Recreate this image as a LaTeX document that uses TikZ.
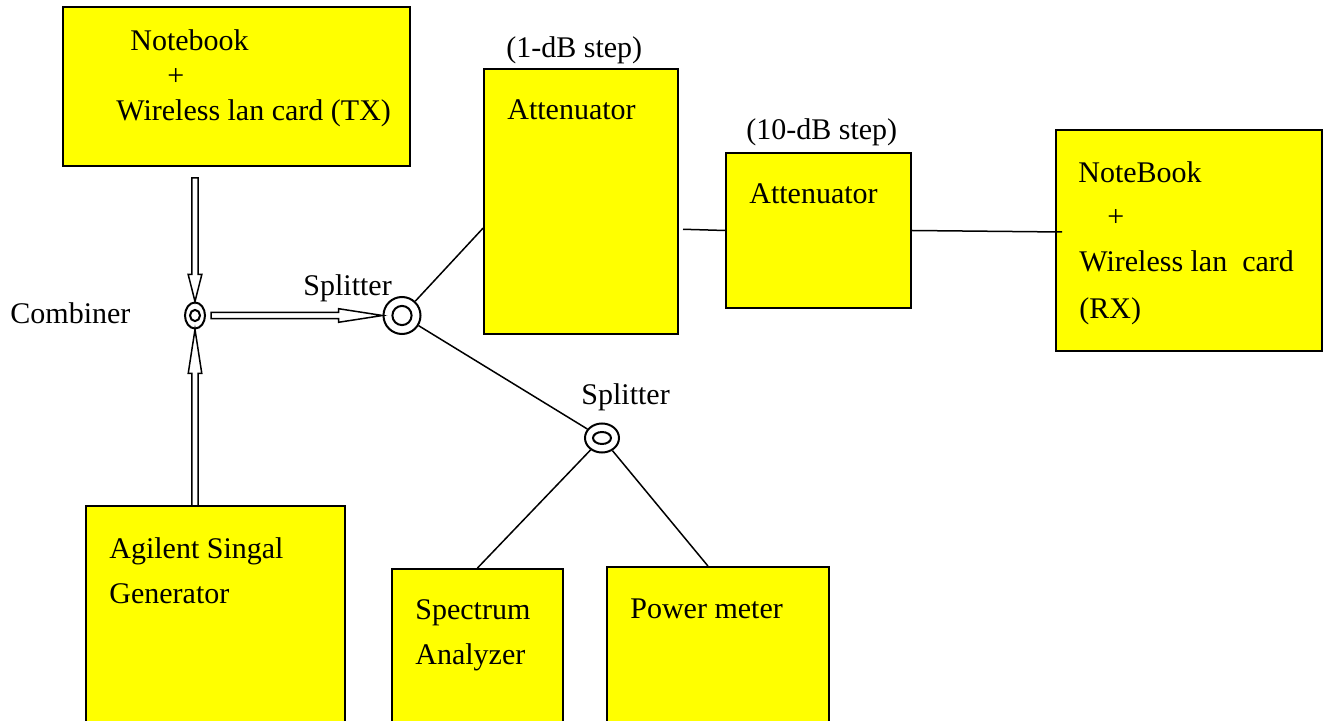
\documentclass[tikz,border=0pt]{standalone}
\usepackage{fontspec}
\setmainfont{Liberation Serif}
\usetikzlibrary{calc,fit,shapes.geometric}
\definecolor{boxyellow}{RGB}{255,255,0}
\tikzset{
  box/.style={draw=black, line width=1pt, fill=boxyellow, inner sep=0pt, rectangle},
  conn/.style={draw=black, line width=0.75pt},
  txt/.style={anchor=base west, inner sep=0pt, yshift=-0.8pt, font=\fontsize{15}{18}\selectfont, text=black},
  ring/.style={draw=black, line width=1pt, ellipse, inner sep=0pt, fill=white}
}
\newcommand\blockarr[4]{%
  \coordinate (#4h) at ($(#2)!#3!(#1)$);
  \draw[conn, line join=miter]
    ($(#1)!1.6pt!90:(#2)$) -- ($(#4h)!1.6pt!90:(#2)$) -- ($(#4h)!3.4pt!90:(#2)$)
    -- (#2) -- ($(#4h)!3.4pt!-90:(#2)$) -- ($(#4h)!1.6pt!-90:(#2)$)
    -- ($(#1)!1.6pt!-90:(#2)$) -- cycle;}
\begin{document}
\begin{tikzpicture}[x=0.5pt,y=-0.5pt]
\useasboundingbox (0,0) rectangle (1323,721);
\clip (0,0) rectangle (1323,721);
% boxes
\node[box, fit={(63,7) (410,166)}] (tx) {};
\node[box, fit={(484,69) (678,334)}] (att1) {};
\node[box, fit={(726,153) (911,308)}] (att2) {};
\node[box, fit={(1056,130) (1322,351)}] (rx) {};
\node[box, fit={(86,506) (345,740)}] (gen) {};
\node[box, fit={(392,569) (563,740)}] (sa) {};
\node[box, fit={(607,567) (829,740)}] (pm) {};
% combiner and splitters
\node[ring, minimum width=10pt, minimum height=13pt] (comb) at (195,315.5) {};
\draw[line width=1pt] (comb.center) ellipse [x radius=2.5pt, y radius=2.8pt];
\node[ring, minimum width=18.5pt, minimum height=18.5pt] (split1) at (402,315.5) {};
\draw[line width=1pt] (split1.center) circle [radius=4.8pt];
\node[ring, minimum width=17pt, minimum height=14.5pt] (split2) at (602,438) {};
\draw[line width=1pt] (split2.center) ellipse [x radius=4.5pt, y radius=3pt];
% texts
\node[txt] (t1) at (130,49) {Notebook};
\node[txt] (t2) at (167,84) {+};
\node[txt] (t3) at (116,119) {Wireless lan card (TX)};
\node[txt] (t4) at (10,322) {Combiner};
\node[txt] (t5) at (303,294) {Splitter};
\node[txt] (t6) at (506,56) {(1-dB step)};
\node[txt] (t7) at (507,118) {Attenuator};
\node[txt] (t8) at (746,138) {(10-dB step)};
\node[txt] (t9) at (749,202) {Attenuator};
\node[txt] (t10) at (1078,181) {NoteBook};
\node[txt] (t11) at (1107,225) {+};
\node[txt] (t12) at (1079,270) {Wireless lan\ \ card};
\node[txt] (t13) at (1079,317) {(RX)};
\node[txt] (t14) at (581,403) {Splitter};
\node[txt] (t15) at (109,557) {Agilent Singal};
\node[txt] (t16) at (109,602) {Generator};
\node[txt] (t17) at (415,618) {Spectrum};
\node[txt] (t18) at (415,663) {Analyzer};
\node[txt] (t19) at (630,617) {Power meter};
% connector points
\coordinate (txout) at (195,178);
\coordinate (genout) at (195,506);
\coordinate (combout) at ($(comb.east)+(5,0)$);
\coordinate (att1in) at ($(att1.south west)!0.4!(att1.north west)$);
\coordinate (att1out) at ($(att1.south east)!0.396!(att1.north east)+(4,0)$);
\coordinate (rxin) at (1062,232);
\coordinate (pmin) at ($(pm.north west)!0.455!(pm.north east)$);
% block arrows
\blockarr{txout}{comb.north}{13.5pt}{ha}
\blockarr{genout}{comb.south}{22pt}{hb}
\blockarr{combout}{split1.west}{22pt}{hc}
% lines
\draw[conn] (split1) -- (att1in);
\draw[conn] (split1) -- (split2);
\draw[conn] (att1out) -- (att2.west);
\draw[conn] (att2.east) -- (rxin);
\draw[conn] (split2) -- (sa.north);
\draw[conn] (split2) -- (pmin);
\end{tikzpicture}
\end{document}
